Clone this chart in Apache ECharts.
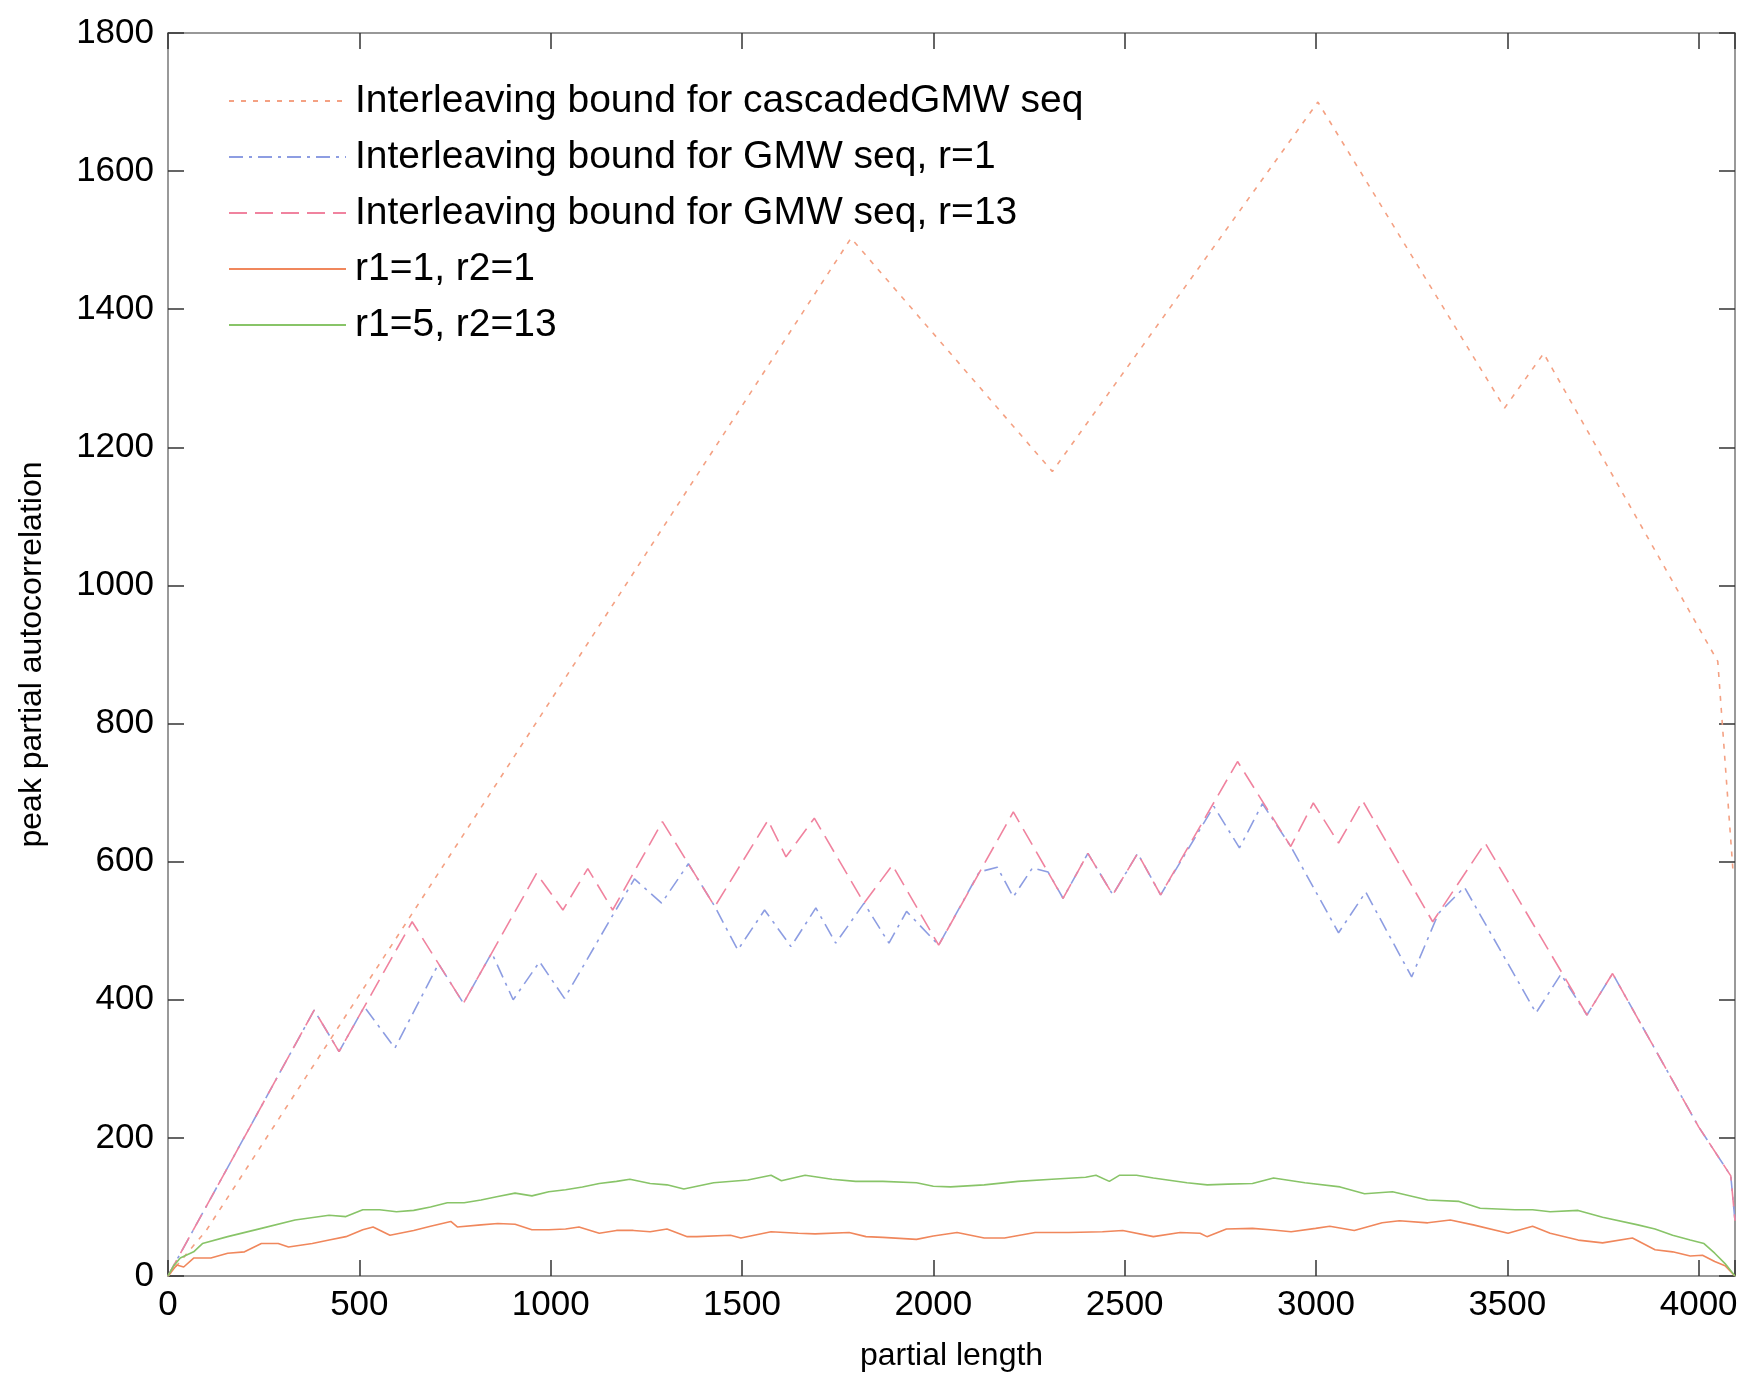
<!DOCTYPE html>
<html>
<head>
<meta charset="utf-8">
<script src="https://cdn.jsdelivr.net/npm/echarts@6/dist/echarts.min.js"></script>
<style>
  html, body { margin: 0; padding: 0; background: #fff; }
  #main { width: 1749px; height: 1381px; }
</style>
</head>
<body>
<div id="main"></div>
<script>
// 读图得到的数据 [partial length, peak]
var legendNames = [
  'Interleaving bound for cascadedGMW seq',
  'Interleaving bound for GMW seq, r=1',
  'Interleaving bound for GMW seq, r=13',
  'r1=1, r2=1',
  'r1=5, r2=13'
];

var cascadeBound = [
  [0, 0], [100, 66], [1785, 1503], [2311, 1165], [3005, 1700],
  [3493, 1257], [3595, 1336], [4050, 890], [4090, 585]
];

var gmwR1 = [
  [0, 0], [382, 385], [447, 325], [513, 390], [593, 330], [707, 452],
  [772, 395], [846, 468], [902, 400], [971, 455], [1036, 402], [1166, 526],
  [1219, 575], [1290, 540], [1360, 597], [1429, 535], [1489, 472], [1559, 530],
  [1628, 477], [1693, 533], [1745, 482], [1819, 540], [1884, 482], [1930, 528],
  [2014, 479], [2120, 585], [2167, 592], [2209, 549], [2259, 591], [2300, 585],
  [2339, 547], [2404, 612], [2469, 552], [2534, 612], [2594, 552], [2733, 680],
  [2800, 620], [2860, 684], [2934, 622], [3059, 497], [3130, 556], [3250, 433],
  [3320, 525], [3388, 563], [3575, 381], [3640, 437], [3708, 378], [3775, 438],
  [4000, 216], [4084, 145], [4095, 80]
];

var gmwR13 = [
  [0, 0], [382, 385], [447, 325], [638, 513], [772, 395], [963, 583],
  [1032, 530], [1097, 590], [1162, 530], [1292, 658], [1429, 535], [1568, 660],
  [1615, 607], [1689, 663], [1819, 540], [1893, 595], [2014, 479], [2209, 672],
  [2339, 547], [2404, 612], [2469, 552], [2534, 612], [2594, 552], [2795, 745],
  [2934, 622], [2993, 685], [3059, 627], [3122, 688], [3305, 513], [3442, 627],
  [3708, 378], [3775, 438], [4000, 216], [4084, 145], [4095, 80]
];

var r1r1 = [
  [0, 0], [23, 16], [41, 13], [67, 26], [112, 26], [156, 33], [200, 35],
  [244, 47], [288, 47], [315, 42], [377, 47], [421, 52], [465, 57], [509, 67],
  [536, 71], [580, 59], [642, 66], [686, 72], [739, 79], [756, 71], [818, 74],
  [862, 76], [907, 75], [951, 67], [995, 67], [1039, 68], [1074, 71], [1127, 62],
  [1172, 66], [1216, 66], [1260, 64], [1304, 68], [1357, 57], [1382, 57],
  [1470, 59], [1497, 55], [1576, 64], [1647, 62], [1691, 61], [1780, 63],
  [1824, 57], [1868, 56], [1956, 53], [2000, 58], [2062, 63], [2133, 55],
  [2186, 55], [2266, 63], [2354, 63], [2442, 64], [2495, 66], [2575, 57],
  [2645, 63], [2697, 62], [2715, 57], [2766, 68], [2834, 69], [2880, 67],
  [2935, 64], [2999, 69], [3036, 72], [3100, 66], [3173, 77], [3218, 80],
  [3292, 77], [3351, 81], [3411, 74], [3502, 62], [3566, 72], [3612, 62],
  [3685, 52], [3749, 48], [3827, 55], [3886, 38], [3932, 35], [3978, 29],
  [4010, 30], [4042, 21], [4069, 15], [4095, 0]
];

var r5r13 = [
  [0, 0], [14, 14], [32, 26], [67, 35], [90, 47], [156, 57], [244, 69],
  [332, 81], [421, 88], [465, 86], [509, 96], [553, 96], [597, 93], [642, 95],
  [686, 100], [730, 106], [774, 106], [818, 110], [862, 115], [907, 120],
  [951, 116], [995, 122], [1039, 125], [1083, 129], [1127, 134], [1172, 137],
  [1207, 140], [1260, 134], [1304, 132], [1348, 126], [1426, 135], [1515, 139],
  [1576, 146], [1603, 138], [1665, 146], [1735, 140], [1797, 137], [1868, 137],
  [1956, 135], [2000, 130], [2045, 129], [2133, 132], [2221, 137], [2310, 140],
  [2398, 143], [2425, 146], [2460, 137], [2487, 146], [2531, 146], [2575, 142],
  [2663, 135], [2716, 132], [2770, 133], [2834, 134], [2889, 142], [2971, 135],
  [3063, 129], [3127, 119], [3200, 122], [3292, 110], [3374, 108], [3429, 98],
  [3520, 96], [3566, 96], [3612, 93], [3685, 95], [3749, 85], [3841, 74],
  [3886, 68], [3932, 59], [3978, 52], [4014, 47], [4042, 33], [4069, 18],
  [4095, 0]
];

var xMax = 4095, xStep = 500;
var yMax = 1800, yStep = 200;

var chart = echarts.init(document.getElementById('main'));

var tickStyle = { show: true, inside: true, length: 16, lineStyle: { color: '#333', width: 1.5 } };
// 四边框线, onZero 关掉, 否则顶/右轴会跑到0处
var lineAxis = { show: true, onZero: false, lineStyle: { color: '#777', width: 1.5 } };
var labelFont = { fontFamily: 'Liberation Sans', fontSize: 35, color: '#000' };

function line(name, data, color, type) {
  return {
    name: name,
    type: 'line',
    data: data,
    symbol: 'none',
    animation: false,
    lineStyle: { color: color, width: 1.6, type: type },
    // 图例里不要圆点
    itemStyle: { color: color, opacity: 0 }
  };
}

var option = {
  backgroundColor: '#fff',
  grid: { left: 168, right: 14, top: 33, bottom: 105 },
  legend: {
    orient: 'vertical',
    left: 223,
    top: 76,
    itemWidth: 117,
    itemHeight: 14,
    itemGap: 16,
    textStyle: {
      fontFamily: 'Liberation Sans', fontSize: 39, color: '#000',
      lineHeight: 40, padding: [0, 0, 0, 4]
    },
    data: legendNames
  },
  xAxis: [{
    type: 'value', min: 0, max: xMax, interval: xStep,
    name: 'partial length', nameLocation: 'middle', nameGap: 64,
    nameTextStyle: { fontFamily: 'Liberation Sans', fontSize: 32, color: '#000' },
    axisLine: lineAxis, axisTick: tickStyle,
    axisLabel: Object.assign({
      margin: 12,
      formatter: function (v) { return v % xStep === 0 ? String(v) : ''; }
    }, labelFont),
    splitLine: { show: false }
  }, {
    type: 'value', position: 'top', min: 0, max: xMax, interval: xStep,
    axisLine: lineAxis, axisTick: tickStyle,
    axisLabel: { show: false }, splitLine: { show: false }
  }],
  yAxis: [{
    type: 'value', min: 0, max: yMax, interval: yStep,
    name: 'peak partial autocorrelation', nameLocation: 'middle', nameGap: 120,
    nameTextStyle: { fontFamily: 'Liberation Sans', fontSize: 32, color: '#000' },
    axisLine: lineAxis, axisTick: tickStyle,
    axisLabel: Object.assign({
      margin: 14,
      formatter: function (v) { return String(v); }
    }, labelFont),
    splitLine: { show: false }
  }, {
    type: 'value', position: 'right', min: 0, max: yMax, interval: yStep,
    axisLine: lineAxis, axisTick: tickStyle,
    axisLabel: { show: false }, splitLine: { show: false }
  }],
  series: [
    line(legendNames[0], cascadeBound, '#f4a183', [5, 7]),
    line(legendNames[1], gmwR1, '#8d9de2', [14, 6, 3, 6]),
    line(legendNames[2], gmwR13, '#f0839f', [18, 8]),
    line(legendNames[3], r1r1, '#f0875c', 'solid'),
    line(legendNames[4], r5r13, '#88c468', 'solid')
  ]
};

chart.setOption(option);
</script>
</body>
</html>
